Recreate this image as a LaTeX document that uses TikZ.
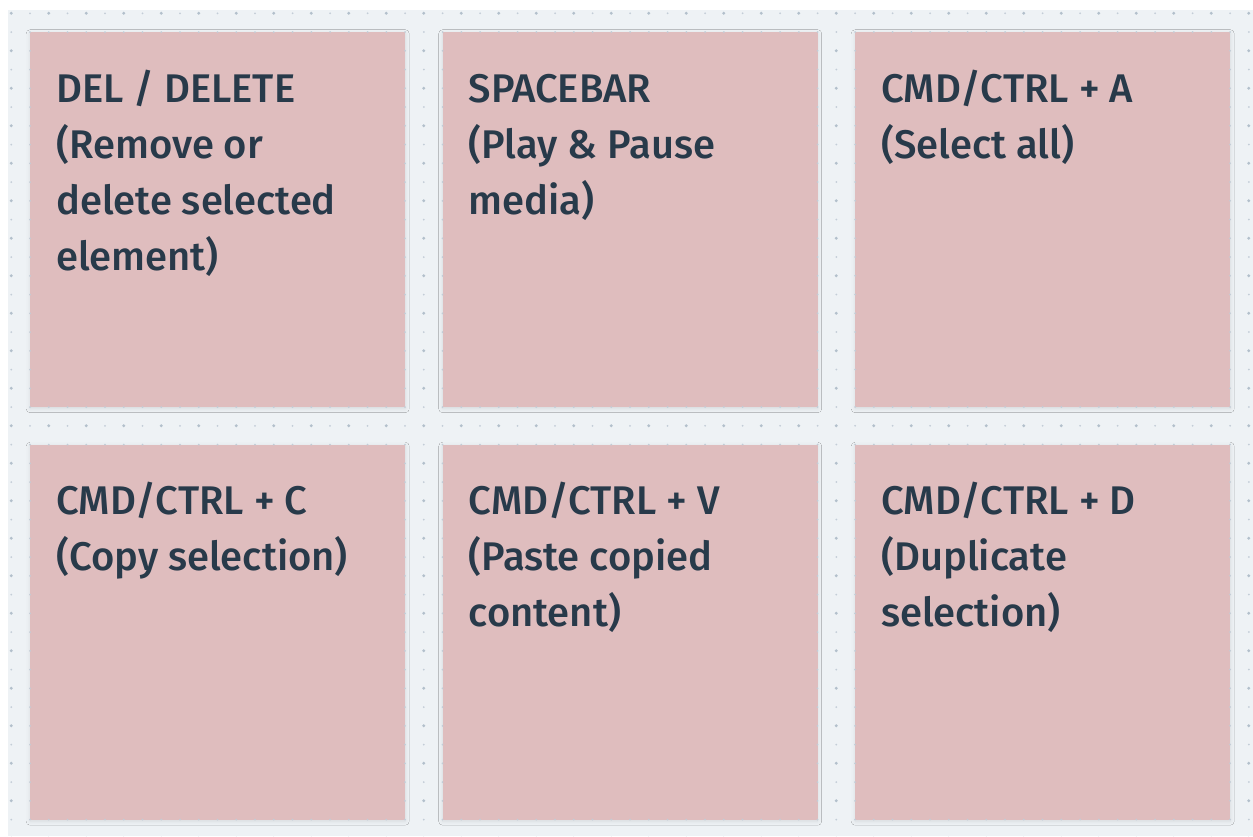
\documentclass[tikz,border=0pt]{standalone}
\usepackage{fontspec}
\setmainfont{Fira Sans}[UprightFont=* Medium]
\usetikzlibrary{shadows.blur}
\definecolor{board}{HTML}{EEF2F5}
\definecolor{cardfill}{HTML}{DFBDBE}
\definecolor{ink}{HTML}{283A4A}
\definecolor{dotbig}{HTML}{B3C0CC}
\definecolor{dotsmall}{HTML}{C3CDD7}
\begin{document}
\begin{tikzpicture}[x=1pt,y=-1pt,
  card/.style={fill=cardfill, draw=none, anchor=north west, inner sep=0pt,
    minimum width=375pt, minimum height=375pt,
    blur shadow={shadow xshift=0pt, shadow yshift=-1.5pt,
      shadow blur radius=4pt, shadow opacity=10}},
  note/.style={anchor=north west, inner sep=0pt, text=ink, align=left,
    font=\fontsize{40}{56}\selectfont}]
\useasboundingbox (0,0) rectangle (1253,836);
\fill[white] (0,0) rectangle (1253,836);
\fill[board] (8,10) rectangle (1253,836);

% sticky notes, 375 x 375 on a 37.5 grid
\node[card] (c1) at (30,32) {};
\node[card] (c2) at (442.5,32) {};
\node[card] (c3) at (855,32) {};
\node[card] (c4) at (30,444.5) {};
\node[card] (c5) at (442.5,444.5) {};
\node[card] (c6) at (855,444.5) {};

% dotted board grid, skipped inside the notes
\foreach \i in {0,...,66}{
  \foreach \j in {0,...,44}{
    \pgfmathtruncatemacro{\ci}{mod(\i,22)}
    \pgfmathtruncatemacro{\cj}{mod(\j,22)}
    \pgfmathtruncatemacro{\inside}{(\ci>1)*(\ci<21)*(\cj>1)*(\cj<21)*(\i<65)*(\j<43)}
    \pgfmathtruncatemacro{\big}{(mod(\i,2)==0)*(mod(\j,2)==0)}
    \ifnum\inside=0
      \ifnum\big=1
        \fill[dotbig] (11.25+18.75*\i,13.25+18.75*\j) circle (1.6);
      \else
        \fill[dotsmall] (11.25+18.75*\i,13.25+18.75*\j) circle (1.0);
      \fi
    \fi
  }
}

% note texts
\node[note] (t1) at ([shift={(26,31)}]c1.north west) {\strut DEL / DELETE\\(Remove or\\delete selected\\element)};
\node[note] (t2) at ([shift={(26,31)}]c2.north west) {\strut SPACEBAR\\(Play \& Pause\\media)};
\node[note] (t3) at ([shift={(26,31)}]c3.north west) {\strut CMD/CTRL + A\\(Select all)};
\node[note] (t4) at ([shift={(26,31)}]c4.north west) {\strut CMD/CTRL + C\\(Copy selection)};
\node[note] (t5) at ([shift={(26,31)}]c5.north west) {\strut CMD/CTRL + V\\(Paste copied\\content)};
\node[note] (t6) at ([shift={(26,31)}]c6.north west) {\strut CMD/CTRL + D\\(Duplicate\\selection)};
\end{tikzpicture}
\end{document}
